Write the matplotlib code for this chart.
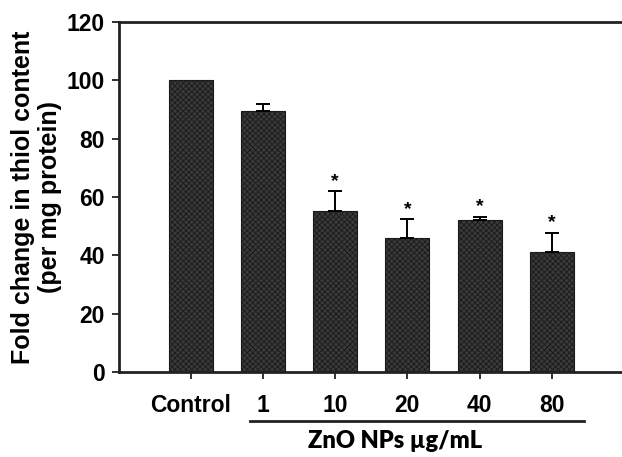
import numpy as np
import matplotlib
matplotlib.use("Agg")
from matplotlib import pyplot as plt

# data
groups = ['Control', '1', '10', '20', '40', '80']
thiol = [100.0, 89.6, 55.2, 45.9, 52.1, 41.1]
err = [0.0, 2.2, 6.8, 6.5, 1.1, 6.6]
signif = [False, False, True, True, True, True]

plt.rcParams['font.family'] = ['Liberation Sans', 'DejaVu Sans']
plt.rcParams['hatch.color'] = '#7a7a7a'
plt.rcParams['hatch.linewidth'] = 0.6

fig = plt.figure(figsize=(6.22, 4.57), dpi=100)
ax = fig.add_axes([0.191, 0.186, 1.003 - 0.191, 0.952 - 0.186])

x = np.arange(len(groups))
ax.bar(x, thiol, width=0.61, color='#3a3a3a', edgecolor='#1a1a1a',
       linewidth=0.8, hatch='xxxxxx', zorder=2)
# control has no error bar
has_err = np.array(err) > 0
ax.errorbar(x[has_err], np.array(thiol)[has_err],
            yerr=[np.zeros(has_err.sum()), np.array(err)[has_err]], fmt='none',
            ecolor='black', elinewidth=1.4, capsize=5, capthick=1.4, zorder=3)

# significance stars
for xi, v, e, s in zip(x, thiol, err, signif):
    if s:
        ax.annotate('*', (xi, v + e), xytext=(0, 1), textcoords='offset points',
                    ha='center', va='bottom', fontsize=14, fontweight='bold')

ax.set_xlim(-1, 6)
ax.set_ylim(0, 120)
ax.set_yticks(np.arange(0, 121, 20))
ax.set_xticks(x)
ax.set_xticklabels(groups)
for lab in ax.get_xticklabels() + ax.get_yticklabels():
    lab.set_fontweight('bold')
    lab.set_fontsize(16.5)
ax.tick_params(axis='both', direction='out', length=5, width=1.3, color='#222222')
ax.tick_params(axis='x', pad=11)
ax.tick_params(axis='y', pad=5)

for side in ['left', 'bottom', 'top']:
    ax.spines[side].set_linewidth(2)
    ax.spines[side].set_color('#222222')
ax.spines['right'].set_visible(False)

ax.set_ylabel('Fold change in thiol content\n(per mg protein)', fontsize=18,
              fontweight='bold', linespacing=1.2, labelpad=3)

# line under the ZnO NP doses and its label
fig.add_artist(plt.Line2D([250 / 622, 584 / 622], [1 - 421 / 457, 1 - 421 / 457],
                          color='#222222', linewidth=2))
fig.text(395 / 622, 1 - 441 / 457, 'ZnO NPs µg/mL', ha='center', va='center',
         fontsize=17, fontweight='heavy', family=['Lato', 'DejaVu Sans'])

fig.savefig('out.png', dpi=100, facecolor='white')
